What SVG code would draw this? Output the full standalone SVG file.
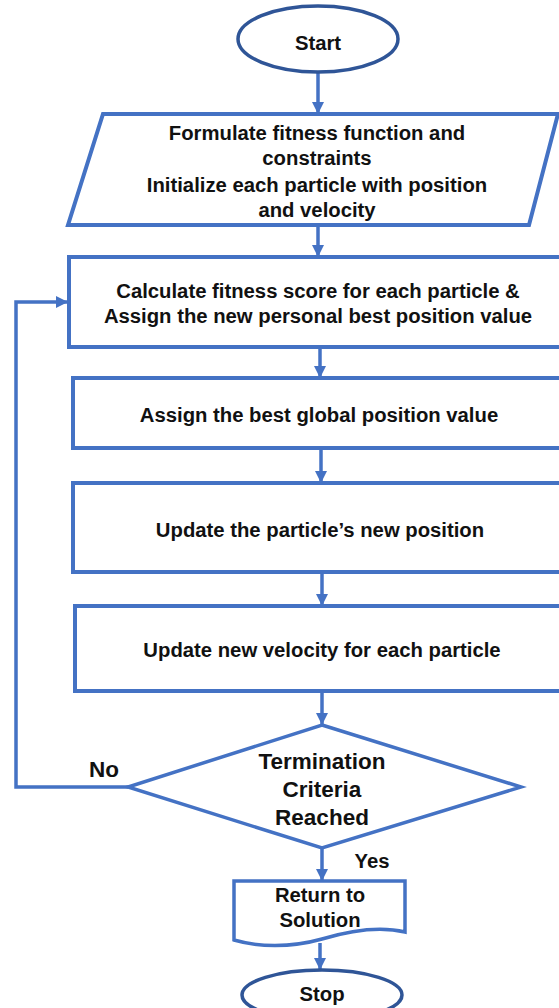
<svg xmlns="http://www.w3.org/2000/svg" width="559" height="1008" viewBox="0 0 559 1008">
<style>
.term{fill:#fff;stroke:#2F5597;stroke-width:3.5}
.box{fill:#fff;stroke:#4472C4;stroke-width:4}
.con{fill:none;stroke:#4472C4;stroke-width:3.5}
text{font-family:"Liberation Sans",Arial,sans-serif;font-weight:bold;font-size:20.3px;fill:#111;text-anchor:middle;dominant-baseline:central}
.big{font-size:22.5px}
</style>
<defs>
<marker id="ah" markerUnits="userSpaceOnUse" markerWidth="12" markerHeight="12" viewBox="0 0 12 12" refX="11" refY="6" orient="auto">
<path d="M0,0 L12,6 L0,12 z" fill="#4472C4"/>
</marker>
</defs>
<rect width="559" height="1008" fill="#fff"/>
<g id="connectors">
<line class="con" x1="318" y1="72" x2="318" y2="113" marker-end="url(#ah)"/>
<line class="con" x1="318" y1="227" x2="318" y2="256" marker-end="url(#ah)"/>
<line class="con" x1="320" y1="349" x2="320" y2="377" marker-end="url(#ah)"/>
<line class="con" x1="321" y1="450" x2="321" y2="482" marker-end="url(#ah)"/>
<line class="con" x1="322" y1="574" x2="322" y2="605" marker-end="url(#ah)"/>
<line class="con" x1="322" y1="693" x2="322" y2="724" marker-end="url(#ah)"/>
<line class="con" x1="322" y1="849" x2="322" y2="880" marker-end="url(#ah)"/>
<line class="con" x1="320" y1="943" x2="320" y2="969" marker-end="url(#ah)"/>
<polyline class="con" points="128,787 16,787 16,302 67,302" marker-end="url(#ah)"/>
<text class="big" x="104" y="769">No</text>
<text x="372" y="861">Yes</text>
</g>
<g id="start">
<ellipse class="term" cx="318" cy="39" rx="80" ry="33"/>
<text x="318" y="43">Start</text>
</g>
<g id="init">
<polygon class="box" points="103,114 558,114 529,225 68,225"/>
<text x="317" y="133">Formulate fitness function and</text>
<text x="317" y="158">constraints</text>
<text x="317" y="185">Initialize each particle with position</text>
<text x="317" y="210">and velocity</text>
</g>
<g id="fitness">
<rect class="box" x="69" y="257" width="510" height="90"/>
<text x="318" y="291">Calculate fitness score for each particle &amp;</text>
<text x="318" y="316">Assign the new personal best position value</text>
</g>
<g id="global">
<rect class="box" x="73" y="378" width="510" height="70"/>
<text x="319" y="415">Assign the best global position value</text>
</g>
<g id="position">
<rect class="box" x="73" y="483" width="510" height="89"/>
<text x="320" y="530">Update the particle’s new position</text>
</g>
<g id="velocity">
<rect class="box" x="75" y="606" width="510" height="85"/>
<text x="322" y="650">Update new velocity for each particle</text>
</g>
<g id="decision">
<polygon class="box" points="322,725 521,787 322,848 128,787" style="stroke-width:3.5"/>
<text class="big" x="322" y="761">Termination</text>
<text class="big" x="322" y="789">Criteria</text>
<text class="big" x="322" y="817">Reached</text>
</g>
<g id="return">
<path class="box" d="M234,881 H405 V932 C380,926 352,930 322,939 C290,948 258,947 234,940 Z" style="stroke-width:3.5"/>
<text x="320" y="895">Return to</text>
<text x="320" y="920">Solution</text>
</g>
<g id="stop">
<ellipse class="term" cx="322" cy="995" rx="80" ry="25"/>
<text x="322" y="994">Stop</text>
</g>
</svg>
